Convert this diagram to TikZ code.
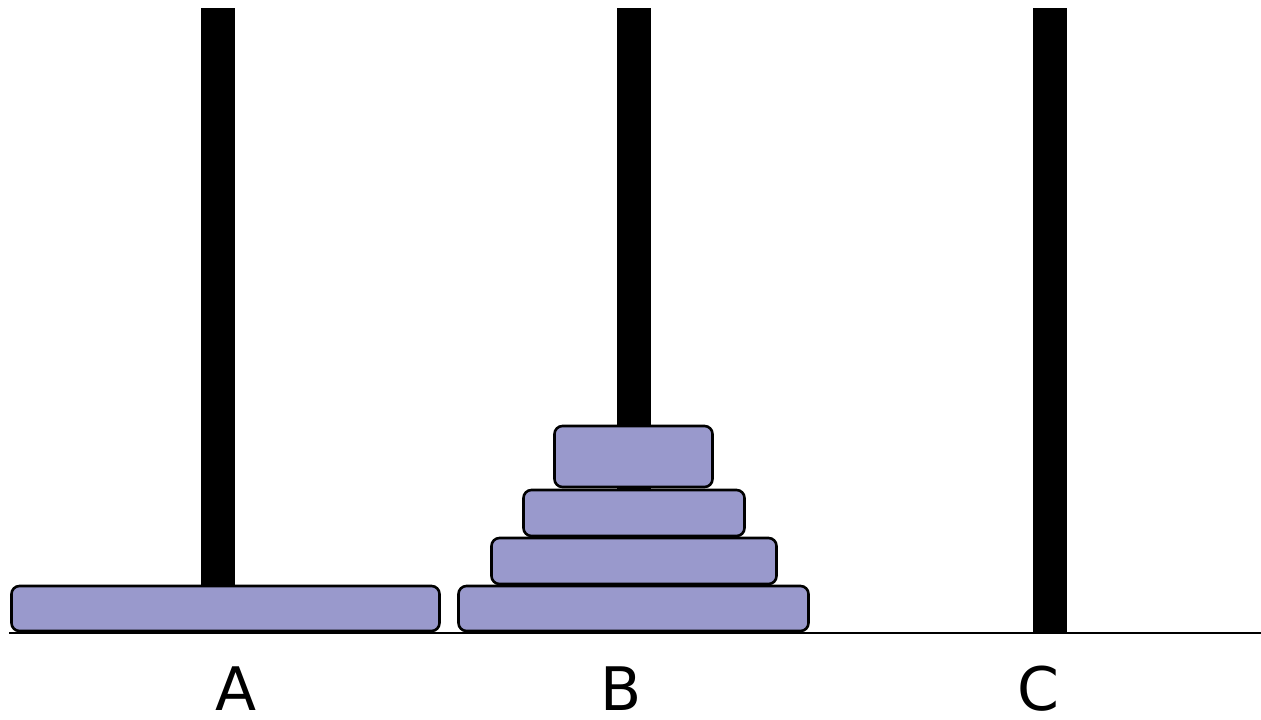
\documentclass[tikz,border=0pt]{standalone}
\usepackage{fontspec}
\setmainfont{DejaVu Sans}
\usepackage{tikz}
\usetikzlibrary{positioning}
\definecolor{disc}{HTML}{9999CC}
\tikzset{
  peg/.style={fill=black, draw=none, minimum width=34pt, inner sep=0pt, anchor=south},
  disk/.style={draw=black, fill=disc, rounded corners=8pt, line width=2.6pt, inner sep=0pt},
  lab/.style={font=\fontsize{60}{60}\selectfont, inner sep=0pt},
}

\begin{document}
\begin{tikzpicture}[x=1pt, y=-1pt]
    \useasboundingbox (0,0) rectangle (1261,720);
    % pegs
    \node[peg, minimum height=625pt] (pegA) at (217.5,633) {};
    \node[peg, minimum height=625pt] (pegB) at (634,633)   {};
    \node[peg, minimum height=625pt] (pegC) at (1049.5,633) {};
    % base line
    \coordinate (baseL) at (9,633);
    \coordinate (baseR) at (1261,633);
    \draw[line width=2.6pt] (baseL) -- (baseR);
    % disks
    \node[disk, minimum width=428pt, minimum height=45pt] (dA)  at (225.5,608.5) {};
    \node[disk, minimum width=350pt, minimum height=45pt] (dB1) at (633.5,608.5) {};
    \node[disk, minimum width=285pt, minimum height=46pt] (dB2) at (634,561)     {};
    \node[disk, minimum width=221pt, minimum height=46pt] (dB3) at (634,513)     {};
    \node[disk, minimum width=158pt, minimum height=61pt] (dB4) at (633.5,456.5) {};
    % labels
    \node[lab] (labA) at (236,689)  {A};
    \node[lab] (labB) at (621,689)  {B};
    \node[lab] (labC) at (1038,689) {C};
\end{tikzpicture}
\end{document}
